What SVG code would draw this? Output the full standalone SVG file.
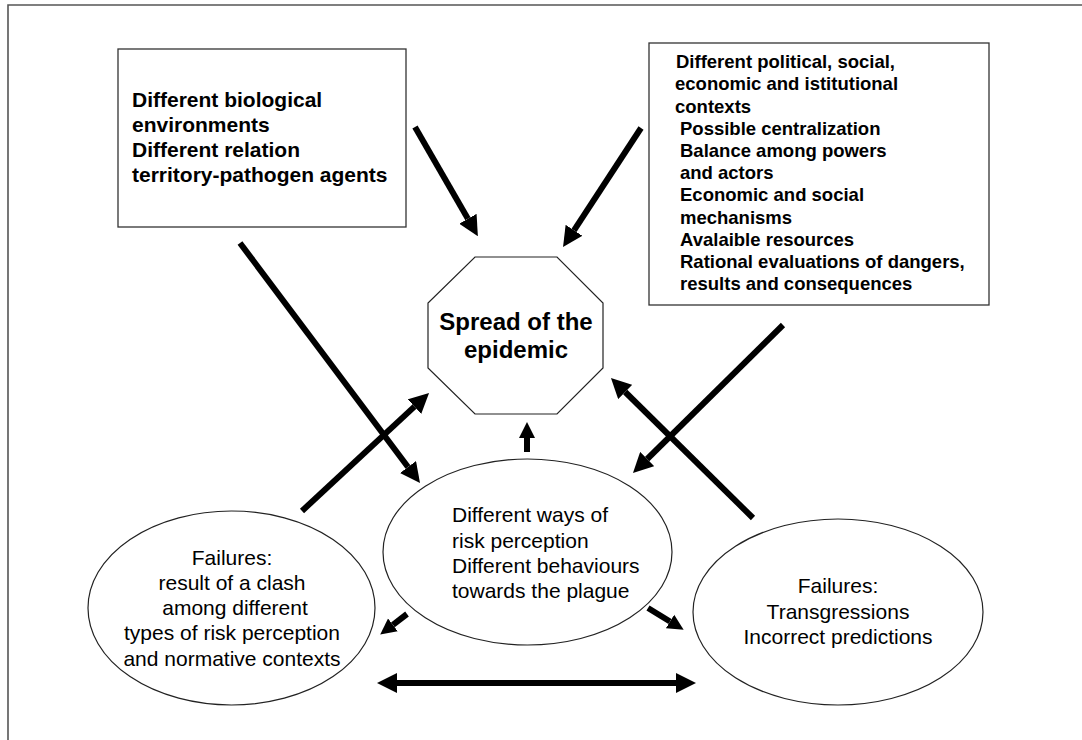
<svg xmlns="http://www.w3.org/2000/svg" width="1082" height="740" viewBox="0 0 1082 740">
<style>
.box{fill:#fff;stroke:#333;stroke-width:1.3}
.shape{fill:#fff;stroke:#222;stroke-width:1.2}
.b{font-family:"Liberation Sans",Arial,sans-serif;font-weight:bold;fill:#000}
.r{font-family:"Liberation Sans",Arial,sans-serif;fill:#000;font-size:21px}
.arr{stroke:#000;stroke-width:6;fill:none;marker-end:url(#ah)}
.frame{stroke:#555;stroke-width:1.6;fill:none}
</style>
<defs>
<marker id="ah" viewBox="0 0 10 10" refX="0" refY="5" markerUnits="userSpaceOnUse" markerWidth="20" markerHeight="20" orient="auto-start-reverse">
<path d="M0,0 L10,5 L0,10 z" fill="#000"/>
</marker>
<marker id="ahs" viewBox="0 0 10 10" refX="0" refY="5" markerUnits="userSpaceOnUse" markerWidth="16" markerHeight="18" orient="auto">
<path d="M0,0 L10,5 L0,10 z" fill="#000"/>
</marker>
</defs>
<rect width="1082" height="740" fill="#fff"/>
<path class="frame" d="M8,740 L8,5 L1082,5"/>

<g id="bio">
<rect class="box" x="118" y="49" width="288" height="178"/>
<text class="b" font-size="21"><tspan x="132" y="107">Different biological</tspan><tspan x="132" y="132">environments</tspan><tspan x="132" y="157">Different relation</tspan><tspan x="132" y="182">territory-pathogen agents</tspan></text>
</g>

<g id="contexts">
<rect class="box" x="649" y="43" width="340" height="262"/>
<text class="b" font-size="18.5"><tspan x="676" y="68">Different political, social,</tspan><tspan x="675" y="90">economic and istitutional</tspan><tspan x="675" y="113">contexts</tspan><tspan x="680" y="135">Possible centralization</tspan><tspan x="680" y="157">Balance among powers</tspan><tspan x="680" y="179">and actors</tspan><tspan x="680" y="201">Economic and social</tspan><tspan x="680" y="224">mechanisms</tspan><tspan x="680" y="246">Avalaible resources</tspan><tspan x="680" y="268">Rational evaluations of dangers,</tspan><tspan x="680" y="290">results and consequences</tspan></text>
</g>

<g id="spread">
<polygon class="shape" points="475,257 557,257 603,303 603,368 557,414 475,414 428,368 428,303"/>
<text class="b" font-size="24" text-anchor="middle"><tspan x="516" y="330">Spread of the</tspan><tspan x="516" y="358">epidemic</tspan></text>
</g>

<g id="perception">
<ellipse class="shape" cx="527.5" cy="552" rx="144.5" ry="93"/>
<text class="r"><tspan x="452" y="522">Different ways of</tspan><tspan x="452" y="548">risk perception</tspan><tspan x="452" y="573">Different behaviours</tspan><tspan x="452" y="598">towards the plague</tspan></text>
</g>

<g id="failures-left">
<ellipse class="shape" cx="231.5" cy="608" rx="143.5" ry="97"/>
<text class="r" text-anchor="middle"><tspan x="232" y="565">Failures:</tspan><tspan x="232" y="590">result of a clash</tspan><tspan x="235" y="615">among different</tspan><tspan x="232" y="640">types of risk perception</tspan><tspan x="232" y="666">and normative contexts</tspan></text>
</g>

<g id="failures-right">
<ellipse class="shape" cx="838" cy="612" rx="145" ry="93"/>
<text class="r" text-anchor="middle"><tspan x="838" y="593">Failures:</tspan><tspan x="838" y="619">Transgressions</tspan><tspan x="838" y="644">Incorrect predictions</tspan></text>
</g>

<g id="connectors">
<line class="arr" x1="415" y1="127" x2="467.9" y2="218.8"/>
<line class="arr" x1="641" y1="128" x2="574" y2="230.3"/>
<line class="arr" x1="240" y1="243" x2="408" y2="467"/>
<line class="arr" x1="302" y1="511" x2="414.4" y2="406.6"/>
<line class="arr" x1="527" y1="452" x2="527" y2="438" style="marker-end:url(#ahs)"/>
<line class="arr" x1="783" y1="325" x2="647.2" y2="459"/>
<line class="arr" x1="753" y1="518" x2="625.2" y2="392"/>
<line class="arr" x1="407" y1="614" x2="392.9" y2="624.8" style="marker-end:url(#ahs)"/>
<line class="arr" x1="648" y1="608" x2="670" y2="621.5" style="marker-end:url(#ahs)"/>
<line class="arr" x1="397" y1="683" x2="676" y2="683" style="marker-start:url(#ah)"/>
</g>
</svg>
